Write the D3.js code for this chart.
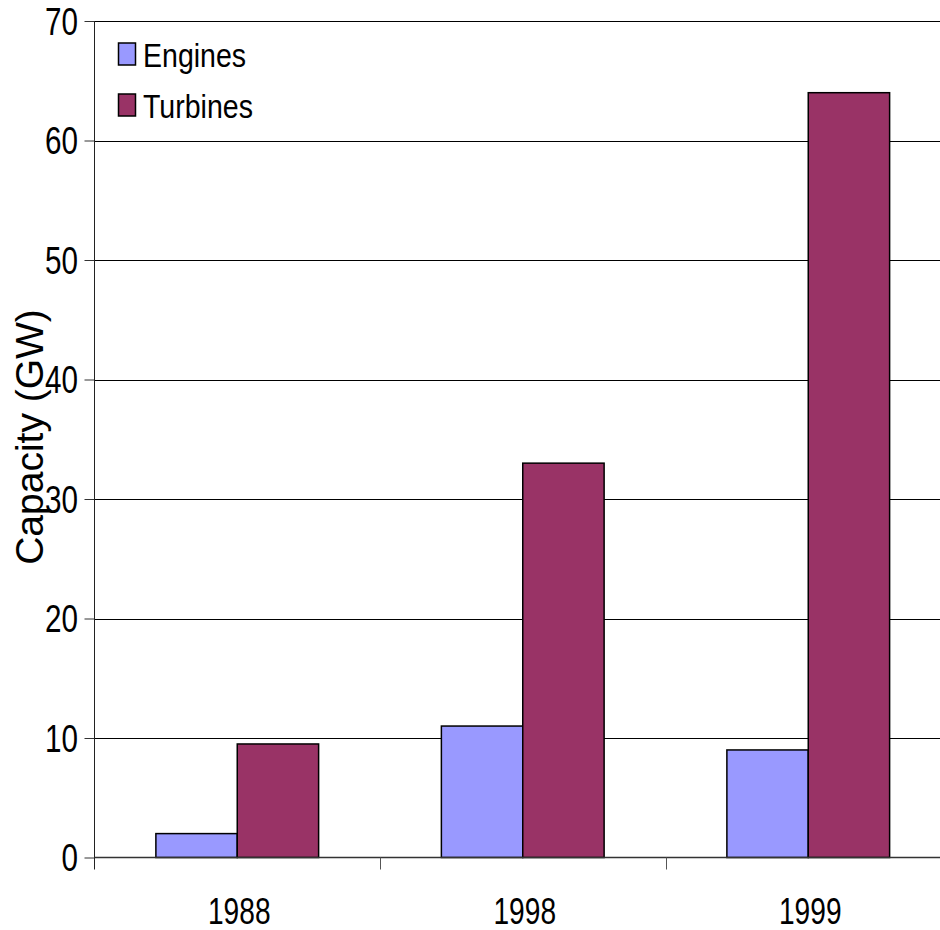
<!DOCTYPE html>
<html>
<head>
<meta charset="utf-8">
<script src="https://cdn.jsdelivr.net/npm/d3@7"></script>
<style>
  body { margin: 0; background: #fff; }
  svg { display: block; font-family: "Liberation Sans", Arial, sans-serif; }
</style>
</head>
<body>
<div id="chart"></div>
<script>
// data
const years   = ["1988", "1998", "1999"];
const series  = ["Engines", "Turbines"];
const engines = [2, 11, 9];
const turbines = [9.5, 33, 64];
const yTicks  = [0, 10, 20, 30, 40, 50, 60, 70];
const colors  = ["#9999ff", "#993366"];

const width = 940, height = 930;
const plot = { left: 94.5, right: 951, top: 21, bottom: 857.5 };

const svg = d3.select("#chart").append("svg")
  .attr("width", width)
  .attr("height", height);

const rows = years.map((y, i) => ({ year: y, values: [engines[i], turbines[i]] }));

// scales
const x0 = d3.scaleBand()
  .domain(years)
  .range([plot.left, plot.right])
  .paddingInner(0.43)
  .paddingOuter(0.215);
const x1 = d3.scaleBand()
  .domain(series)
  .range([0, x0.bandwidth()]);
const y = d3.scaleLinear()
  .domain([0, 70])
  .range([plot.bottom, plot.top]);
const color = d3.scaleOrdinal().domain(series).range(colors);

// gridlines
svg.append("g")
  .selectAll("line")
  .data(yTicks.filter(d => d > 0))
  .enter().append("line")
    .attr("x1", plot.left)
    .attr("x2", width)
    .attr("y1", d => Math.round(y(d)) + 0.5)
    .attr("y2", d => Math.round(y(d)) + 0.5)
    .attr("stroke", "#000")
    .attr("stroke-width", 1);

// bars
const groups = svg.append("g")
  .selectAll("g")
  .data(rows)
  .enter().append("g")
    .attr("transform", d => `translate(${x0(d.year)},0)`);

groups.selectAll("rect")
  .data(d => series.map((s, i) => ({ key: s, value: d.values[i] })))
  .enter().append("rect")
    .attr("x", d => x1(d.key))
    .attr("y", d => y(d.value))
    .attr("width", x1.bandwidth())
    .attr("height", d => y(0) - y(d.value))
    .attr("fill", d => color(d.key))
    .attr("stroke", "#000")
    .attr("stroke-width", 1.5);

// y axis
const yAxis = svg.append("g")
  .attr("transform", `translate(${plot.left},0)`)
  .call(d3.axisLeft(y).tickValues(yTicks).tickSize(10).tickSizeOuter(0).tickPadding(0));
yAxis.select(".domain").remove();
yAxis.selectAll(".tick line").attr("stroke", "#333");
yAxis.selectAll(".tick text").remove();
yAxis.append("line")
  .attr("x1", 0).attr("x2", 0)
  .attr("y1", plot.top).attr("y2", plot.bottom + 12)
  .attr("stroke", "#222");

// y tick labels, narrow like the original
svg.append("g")
  .selectAll("text")
  .data(yTicks)
  .enter().append("text")
    .attr("transform", d => `translate(78,${y(d)}) scale(0.78,1)`)
    .attr("dy", "0.36em")
    .attr("text-anchor", "end")
    .attr("font-size", 38)
    .attr("fill", "#000")
    .text(d => d);

// x axis
const step = x0.step();
const outer = (step - x0.bandwidth()) / 2;
const bounds = years.map(d => x0(d) - outer).concat([x0(years[years.length - 1]) - outer + step]);

svg.append("line")
  .attr("x1", plot.left).attr("x2", width)
  .attr("y1", plot.bottom).attr("y2", plot.bottom)
  .attr("stroke", "#333")
  .attr("stroke-width", 1.5);

svg.append("g")
  .selectAll("line")
  .data(bounds.slice(1))
  .enter().append("line")
    .attr("x1", d => Math.round(d) + 0.5)
    .attr("x2", d => Math.round(d) + 0.5)
    .attr("y1", plot.bottom)
    .attr("y2", plot.bottom + 12)
    .attr("stroke", "#555");

svg.append("g")
  .selectAll("text")
  .data(years)
  .enter().append("text")
    .attr("transform", d => `translate(${x0(d) + x0.bandwidth() / 2 + 2},924) scale(0.76,1)`)
    .attr("text-anchor", "middle")
    .attr("font-size", 37)
    .attr("fill", "#000")
    .text(d => d);

// y axis title
svg.append("text")
  .attr("transform", "translate(43,437) rotate(-90)")
  .attr("text-anchor", "middle")
  .attr("font-size", 39)
  .attr("fill", "#000")
  .text("Capacity (GW)");

// legend
const legend = svg.append("g")
  .selectAll("g")
  .data(series)
  .enter().append("g")
    .attr("transform", (d, i) => `translate(118,${67 + i * 51})`);

legend.append("rect")
  .attr("x", 0.5)
  .attr("y", -24)
  .attr("width", 17)
  .attr("height", 22)
  .attr("fill", d => color(d))
  .attr("stroke", "#000")
  .attr("stroke-width", 1.5);

legend.append("text")
  .attr("transform", "translate(25,0) scale(0.84,1)")
  .attr("font-size", 34)
  .attr("fill", "#000")
  .text(d => d);
</script>
</body>
</html>
